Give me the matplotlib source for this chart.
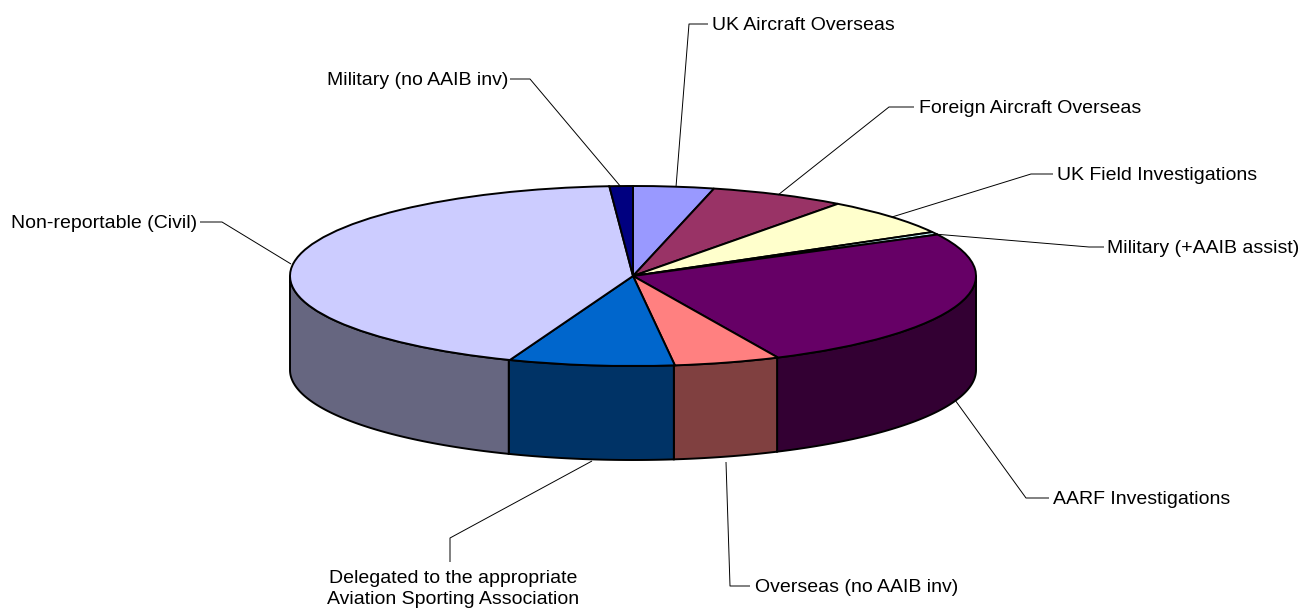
import numpy as np
import matplotlib
matplotlib.use("Agg")
import matplotlib.pyplot as plt

# shares of the pie, clockwise from 12 o'clock
categorias = ["UK Aircraft Overseas", "Foreign Aircraft Overseas", "UK Field Investigations",
              "Military (+AAIB assist)", "AARF Investigations", "Overseas (no AAIB inv)",
              "Delegated to the appropriate\nAviation Sporting Association",
              "Non-reportable (Civil)", "Military (no AAIB inv)"]
valores = [3.8, 6.4, 6.7, 0.5, 25.7, 5.0, 7.8, 43.1, 1.1]
cores_topo = ["#9999FF", "#993366", "#FFFFCC", "#CCFFFF", "#660066", "#FF8080", "#0066CC", "#CCCCFF", "#000080"]
cores_lado = ["#666699", "#662244", "#AAAA88", "#88AAAA", "#330033", "#804040", "#003366", "#666680", "#000040"]

W, H = 1314, 610
CX, CY, RX, RY, PROF = 633, 276, 343, 90, 94


def px(x, y):
    # pixel da imagem -> coordenada dos dados
    return (x - CX) / RX, (CY - y) / RY


# pontos das linhas guia e do texto, em pixels
guias = [
    [(676, 187), (689, 24), (708, 24)],
    [(778, 195), (889, 107), (914, 107)],
    [(892, 217), (1031, 174), (1053, 174)],
    [(934, 234), (1089, 247), (1104, 247)],
    [(955, 400), (1026, 498), (1049, 498)],
    [(726, 462), (730, 586), (750, 586)],
    [(592, 461), (450, 538), (450, 562)],
    [(291, 264), (222, 222), (200, 222)],
    [(621, 187), (530, 79), (510, 79)],
]
textos = [
    (712, 25, "left"), (919, 108, "left"), (1057, 175, "left"), (1107, 248, "left"),
    (1053, 499, "left"), (755, 587, "left"), (453, 589, "center"), (197, 223, "right"), (508, 80, "right"),
]

fig = plt.figure(figsize=(W / 100, H / 100), dpi=100)
ax = fig.add_axes([0, 0, 1, 1])

ang = 90 - np.cumsum([0] + valores) * 3.6
prof = PROF / RY

# laterais visiveis: so a metade da frente (-180 a 0 graus)
for i in range(len(valores)):
    lo, hi = max(ang[i + 1], -180), min(ang[i], 0)
    if lo < hi:
        t = np.radians(np.linspace(lo, hi, 80))
        xs = np.r_[np.cos(t), np.cos(t)[::-1]]
        ys = np.r_[np.sin(t), np.sin(t)[::-1] - prof]
        ax.fill(xs, ys, facecolor=cores_lado[i], edgecolor="black", lw=1.4, zorder=2)

ax.pie(valores, colors=cores_topo, startangle=90, counterclock=False, radius=1,
       wedgeprops=dict(edgecolor="black", linewidth=1.4, zorder=3))

for nome, guia, (tx, ty, ha) in zip(categorias, guias, textos):
    xy = np.array([px(*p) for p in guia])
    ax.plot(xy[:, 0], xy[:, 1], color="black", lw=0.7, zorder=4, solid_capstyle="butt")
    x, y = px(tx, ty)
    ax.text(x, y, nome, ha=ha, va="center", fontsize=14, family="Liberation Sans",
            color="black", linespacing=1.35, zorder=5)

ax.set_aspect("auto")
ax.set_xlim(px(0, 0)[0], px(W, 0)[0])
ax.set_ylim(px(0, H)[1], px(0, 0)[1])
ax.axis("off")
fig.savefig("out.png", dpi=100, facecolor="white")
